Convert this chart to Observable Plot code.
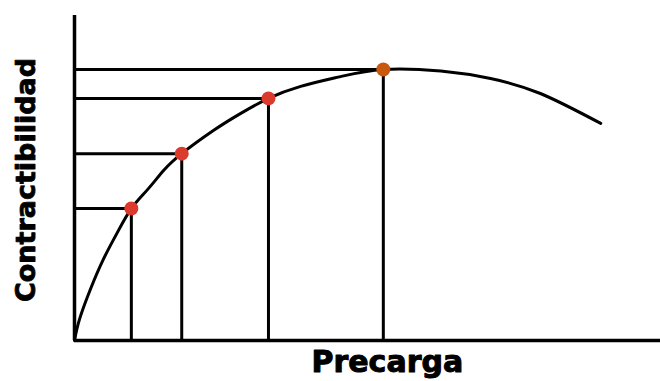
<!DOCTYPE html>
<html><head><meta charset="utf-8">
<script src="https://cdn.jsdelivr.net/npm/d3@7"></script>
<script src="https://cdn.jsdelivr.net/npm/@observablehq/plot@0.6"></script>
<style>body{margin:0;background:#fff}</style>
</head><body><div id="chart"></div>
<script>
// Frank-Starling curve (arbitrary units 0-100)
const curveX = [0, 0.85, 2.7, 4.9, 7.3, 9.7, 12.5, 15.2, 18.3, 23.7, 28.3, 33.1, 38.6, 45.4, 52.7, 62.5, 71.0, 79.5, 89.8];
const curveY = [0, 6.5, 15.7, 24.9, 33.2, 40.6, 46.5, 52.3, 57.5, 64.6, 69.8, 74.5, 78.2, 81.2, 83.4, 82.9, 80.6, 76.0, 66.8];
const pointX = [9.7, 18.3, 33.1, 52.7];
const pointY = [40.6, 57.5, 74.5, 83.4];
const pointKind = ["normal", "normal", "normal", "peak"];
const xLabel = "Precarga";
const yLabel = "Contractibilidad";

const curve = curveX.map((x, i) => ({x, y: curveY[i]}));
const points = pointX.map((x, i) => ({x, y: pointY[i], kind: pointKind[i]}));
const peak = points.find(d => d.kind === "peak");

const chart = Plot.plot({
  width: 660, height: 381,
  marginLeft: 74, marginRight: 0, marginTop: 15, marginBottom: 41,
  x: {domain: [0, 100], axis: null},
  y: {domain: [0, 100], axis: null},
  style: {background: "#fff"},
  marks: [
    Plot.ruleY(points, {y: "y", x1: 0, x2: "x", stroke: "#000", strokeWidth: 3}),
    Plot.ruleX(points, {x: "x", y1: 0, y2: "y", stroke: "#000", strokeWidth: 3}),
    Plot.ruleX([0], {stroke: "#000", strokeWidth: 3.5}),
    Plot.ruleY([0], {stroke: "#000", strokeWidth: 3.5}),
    Plot.line(curve, {x: "x", y: "y", curve: "natural", stroke: "#000", strokeWidth: 3}),
    Plot.dot(points, {x: "x", y: "y", r: 7, stroke: null,
      fill: d => d.kind === "peak" ? "#c9580c" : "#dc3a2c"}),
    Plot.text([yLabel], {frameAnchor: "left", textAnchor: "middle", lineAnchor: "middle",
      rotate: -90, dx: -48, dy: 2, text: d => d,
      fontSize: 27, fontWeight: "bold", fontFamily: "DejaVu Sans", fill: "#000",
      stroke: "#000", strokeWidth: 0.8, style: "letter-spacing:1.2px"}),
    Plot.text([xLabel], {x: peak.x, y: 0, dy: 22, dx: 4, text: d => d,
      fontSize: 30, fontWeight: "bold", fontFamily: "DejaVu Sans", fill: "#000",
      stroke: "#000", strokeWidth: 1, style: "letter-spacing:3px"})
  ]
});
document.getElementById("chart").appendChild(chart);
</script>
</body></html>
